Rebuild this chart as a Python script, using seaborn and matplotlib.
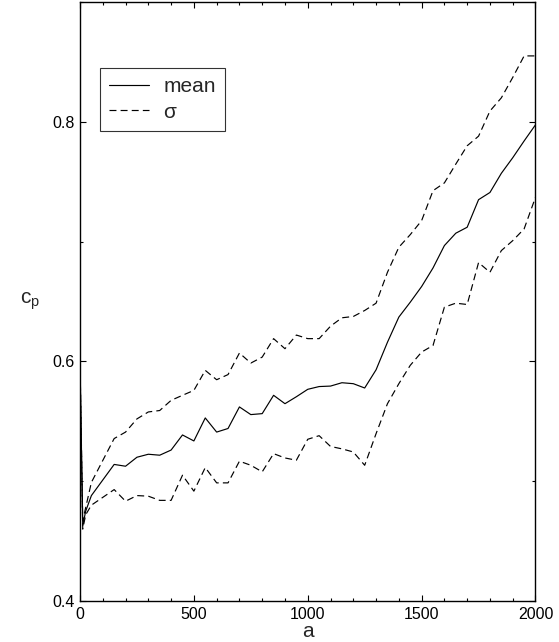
import matplotlib
matplotlib.use("Agg")
import matplotlib.pyplot as plt
from matplotlib.ticker import MultipleLocator, FormatStrFormatter
import seaborn as sns
import pandas as pd

# ---- data ----
a_vals = [0, 12, 25, 50, 150, 200, 250, 300, 350, 400, 450, 500, 550, 600, 650,
          700, 750, 800, 850, 900, 950, 1000, 1050, 1100, 1150, 1200, 1250, 1300,
          1350, 1400, 1450, 1500, 1550, 1600, 1650, 1700, 1750, 1800, 1850, 1900,
          1950, 2000]
mean_vals = [0.600, 0.463, 0.475, 0.488, 0.514, 0.5125, 0.520, 0.5225, 0.5217,
             0.526, 0.5386, 0.5336, 0.5528, 0.541, 0.544, 0.562, 0.5556, 0.5564,
             0.5717, 0.5647, 0.5705, 0.5767, 0.579, 0.5794, 0.5822, 0.5814,
             0.5778, 0.593, 0.616, 0.637, 0.6494, 0.6625, 0.678, 0.6967, 0.707,
             0.712, 0.735, 0.741, 0.757, 0.770, 0.784, 0.7975]
upper_vals = [0.600, 0.467, 0.478, 0.499, 0.5356, 0.541, 0.552, 0.5578, 0.559,
              0.5675, 0.5717, 0.5758, 0.5925, 0.5847, 0.589, 0.607, 0.5986,
              0.6036, 0.619, 0.6106, 0.622, 0.619, 0.619, 0.6294, 0.6364,
              0.6375, 0.6425, 0.6486, 0.6744, 0.6953, 0.7058, 0.7175, 0.7425,
              0.749, 0.7647, 0.780, 0.788, 0.809, 0.820, 0.837, 0.855, 0.855]
lower_vals = [0.595, 0.460, 0.472, 0.480, 0.493, 0.4833, 0.488, 0.4875, 0.484,
              0.484, 0.505, 0.4917, 0.5114, 0.4986, 0.4986, 0.5167, 0.5133,
              0.5078, 0.523, 0.5194, 0.5175, 0.535, 0.538, 0.529, 0.527, 0.5244,
              0.5133, 0.5397, 0.5647, 0.5814, 0.5967, 0.6078, 0.6133, 0.6453,
              0.6486, 0.6475, 0.6825, 0.6744, 0.6925, 0.7008, 0.7106, 0.737]
x_ticks = [0, 500, 1000, 1500, 2000]
y_ticks = [0.4, 0.6, 0.8]
legend_labels = ["mean", "σ"]

df = pd.DataFrame({"a": a_vals, "mean": mean_vals,
                   "upper": upper_vals, "lower": lower_vals})

sns.set_style("ticks")
plt.rcParams["font.family"] = ["Liberation Sans", "DejaVu Sans"]
plt.rcParams["mathtext.default"] = "regular"
plt.rcParams["lines.scale_dashes"] = False

fig = plt.figure(figsize=(5.59, 6.42), dpi=100)
ax = fig.add_axes([80 / 559, 1 - 601 / 642, 455.5 / 559, 599 / 642])

sns.lineplot(data=df, x="a", y="mean", ax=ax, color="black", lw=0.85,
             sort=False, estimator=None)
sns.lineplot(data=df, x="a", y="upper", ax=ax, color="black", lw=0.85,
             sort=False, estimator=None, linestyle=(0, (5, 3)))
sns.lineplot(data=df, x="a", y="lower", ax=ax, color="black", lw=0.85,
             sort=False, estimator=None, linestyle=(0, (5, 3)))

ax.set_xlim(0, 2000)
ax.set_ylim(0.4, 0.9)
ax.set_xticks(x_ticks)
ax.set_yticks(y_ticks)
ax.xaxis.set_minor_locator(MultipleLocator(100))
ax.yaxis.set_minor_locator(MultipleLocator(0.1))
ax.yaxis.set_major_formatter(FormatStrFormatter("%.1f"))
ax.tick_params(which="both", direction="in", top=True, right=True,
               labelsize=11.5, width=0.8, colors="black", pad=4)
ax.tick_params(which="major", length=4.5)
ax.tick_params(which="minor", length=2.5)
for s in ax.spines.values():
    s.set_visible(True)
    s.set_linewidth(1.0)
    s.set_color("black")

ax.set_xlabel("a", fontsize=15, labelpad=0)
ax.set_ylabel("$c_p$", fontsize=15, rotation=0, va="center", ha="center")
ax.yaxis.set_label_coords(-0.11, 0.50)

lines = ax.get_lines()
leg = ax.legend(handles=[lines[0], lines[1]], labels=legend_labels,
                loc="upper left", bbox_to_anchor=(0.044, 0.89),
                borderaxespad=0, fontsize=15, frameon=True, fancybox=False,
                handlelength=1.9, handletextpad=0.7, labelspacing=0.3,
                borderpad=0.45)
leg.get_frame().set_edgecolor("black")
leg.get_frame().set_linewidth(0.8)

fig.savefig("out.png", dpi=100)
